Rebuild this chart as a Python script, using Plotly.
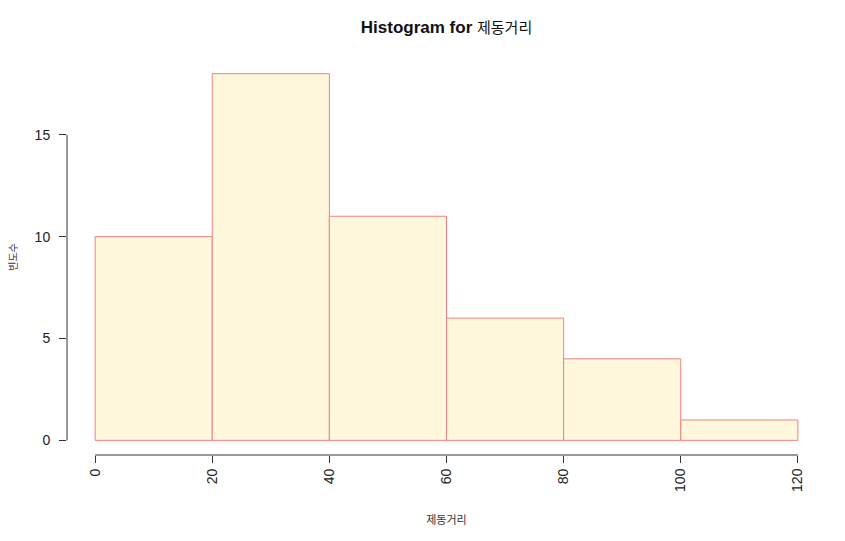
"""Histogram of braking distance (R base-graphics look)"""

import plotly.graph_objects as go

# bin edges and counts
bin_edges = [0, 20, 40, 60, 80, 100, 120]
counts = [10, 18, 11, 6, 4, 1]
x_ticks = [0, 20, 40, 60, 80, 100, 120]
y_ticks = [0, 5, 10, 15]

x_label = '제동거리'
y_label = '빈도수'

FONT = 'Liberation Sans, Arial, Noto Sans CJK KR, sans-serif'

mids = [(a + b) / 2 for a, b in zip(bin_edges[:-1], bin_edges[1:])]
widths = [b - a for a, b in zip(bin_edges[:-1], bin_edges[1:])]

fig = go.Figure()
fig.add_trace(go.Bar(
    x=mids, y=counts, width=widths,
    marker=dict(color='#FFF8DC', line=dict(color='#F08080', width=1)),
    hoverinfo='y'))

# R extends axis ranges by 4%
xr = [bin_edges[0], bin_edges[-1]]
yr = [0, max(counts)]
xpad = (xr[1] - xr[0]) * 0.04
ypad = (yr[1] - yr[0]) * 0.04

# page body has an 8px margin, so the figure is a bit smaller than the window
fig.update_layout(
    width=837, height=533,
    margin=dict(l=59, r=19, t=51, b=86),
    paper_bgcolor='white', plot_bgcolor='white',
    showlegend=False,
    font=dict(family=FONT, color='#222222', size=12),
    title=dict(text='<b>Histogram for</b> <span style="font-size:15px">제동거리</span>',
               x=0.5, xref='paper', y=0.964, yanchor='middle',
               font=dict(family=FONT, size=17, color='#111111')),
    xaxis=dict(range=[xr[0] - xpad, xr[1] + xpad], tickvals=x_ticks,
               tickangle=-90, ticks='outside', ticklen=7, tickcolor='#333333',
               showgrid=False, zeroline=False, showline=False, automargin=False,
               tickfont=dict(size=14, color='#222222'),
               title=dict(text=x_label, font=dict(size=11, color='#333333'), standoff=25)),
    yaxis=dict(range=[yr[0] - ypad, yr[1] + ypad], tickvals=y_ticks,
               ticks='outside', ticklen=7, tickcolor='#333333',
               ticklabelstandoff=6, automargin=False,
               showgrid=False, zeroline=False, showline=False,
               tickfont=dict(size=14, color='#222222'),
               title=dict(text=y_label, font=dict(size=10, color='#333344'), standoff=28)),
)

# axis lines spanning only the tick range, like R's axis()
fig.add_shape(type='line', xref='x', yref='paper', x0=x_ticks[0], x1=x_ticks[-1],
              y0=0, y1=0, line=dict(color='#333333', width=1))
fig.add_shape(type='line', xref='paper', yref='y', x0=0, x1=0,
              y0=y_ticks[0], y1=y_ticks[-1], line=dict(color='#333333', width=1))

fig.write_html("out.html")
